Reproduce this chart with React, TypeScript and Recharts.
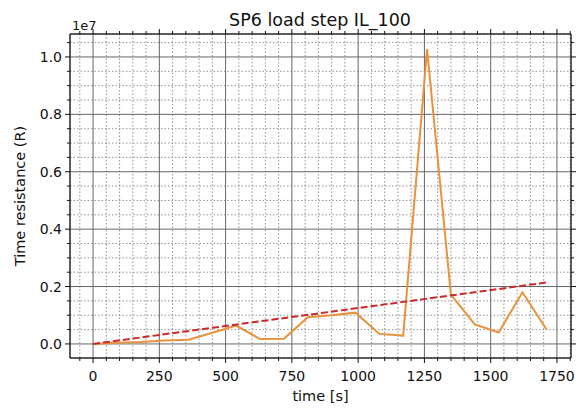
import { LineChart, Line, XAxis, YAxis, CartesianGrid } from 'recharts';

// measured samples, seconds vs resistance
const times = [0, 90, 180, 270, 360, 450, 540, 630, 720, 810, 900, 990, 1080, 1170, 1260, 1350, 1440, 1530, 1620, 1710];
const resistance = [0, 40000, 70000, 120000, 150000, 390000, 640000, 170000, 180000, 930000, 1000000, 1090000, 350000, 290000, 10270000, 1720000, 680000, 400000, 1800000, 510000];

// linear trend (dashed red)
const trendTimes = [0, 1710];
const trendValues = [0, 2140000];

const xMajor = [0, 250, 500, 750, 1000, 1250, 1500, 1750];
const xMinor = [-50, 50, 100, 150, 200, 300, 350, 400, 450, 550, 600, 650, 700, 800, 850, 900, 950, 1050, 1100, 1150, 1200, 1300, 1350, 1400, 1450, 1550, 1600, 1650, 1700, 1800];
const yMajor = [0, 2000000, 4000000, 6000000, 8000000, 10000000];
const yMinor = [500000, 1000000, 1500000, 2500000, 3000000, 3500000, 4500000, 5000000, 5500000, 6500000, 7000000, 7500000, 8500000, 9000000, 9500000, 10500000];

const xDomain = [-87, 1803];
const yDomain = [-490000, 10800000];

const data = times.map((t, i) => ({ t, r: resistance[i] }));
const trend = trendTimes.map((t, i) => ({ t, trend: trendValues[i] }));
const xAll = [...xMajor, ...xMinor].sort((a, b) => a - b);
const yAll = [...yMajor, ...yMinor].sort((a, b) => a - b);

const font = 'DejaVu Sans, sans-serif';

const XTick = ({ x, y, payload, up }: any) => {
  const major = xMajor.includes(payload.value);
  const len = major ? 5 : 3;
  const d = up ? -1 : 1;
  return (
    <g>
      <line x1={x} x2={x} y1={y} y2={y + d * len} stroke="#111" strokeWidth={1} />
      {major && !up && (
        <text x={x} y={y + 23} textAnchor="middle" fontSize={14} fontFamily={font} fill="#111">
          {payload.value}
        </text>
      )}
    </g>
  );
};

const YTick = ({ x, y, payload, right }: any) => {
  const major = yMajor.includes(payload.value);
  const len = major ? 5 : 3;
  const d = right ? 1 : -1;
  return (
    <g>
      <line x1={x} x2={x + d * len} y1={y} y2={y} stroke="#111" strokeWidth={1} />
      {major && !right && (
        <text x={x - 8} y={y + 5} textAnchor="end" fontSize={14} fontFamily={font} fill="#111">
          {(payload.value / 1e7).toFixed(1)}
        </text>
      )}
    </g>
  );
};

export default function App() {
  return (
    <LineChart width={580} height={400} data={data} margin={{ top: 18, right: 9, bottom: 10, left: 12 }}>
      <XAxis xAxisId="gxMin" type="number" dataKey="t" domain={xDomain} allowDataOverflow ticks={xMinor} interval={0} hide />
      <XAxis xAxisId="gxMaj" type="number" dataKey="t" domain={xDomain} allowDataOverflow ticks={xMajor} interval={0} hide />
      <YAxis yAxisId="gyMin" type="number" domain={yDomain} allowDataOverflow ticks={yMinor} interval={0} hide />
      <YAxis yAxisId="gyMaj" type="number" domain={yDomain} allowDataOverflow ticks={yMajor} interval={0} hide />
      <CartesianGrid xAxisId="gxMin" yAxisId="gyMin" stroke="#777" strokeWidth={0.8} strokeDasharray="1.5 2" />
      <CartesianGrid xAxisId="gxMaj" yAxisId="gyMaj" stroke="#666" strokeWidth={1} />
      <XAxis
        type="number"
        dataKey="t"
        domain={xDomain}
        allowDataOverflow
        ticks={xAll}
        interval={0}
        height={40}
        tickSize={0}
        tickMargin={0}
        tickLine={false}
        axisLine={{ stroke: '#111' }}
        tick={(p: any) => <XTick {...p} />}
        label={{ value: 'time [s]', position: 'insideBottom', offset: -3, fontSize: 14.5, fontFamily: font, fill: '#111' }}
      />
      <XAxis
        xAxisId="top"
        orientation="top"
        type="number"
        dataKey="t"
        domain={xDomain}
        allowDataOverflow
        ticks={xAll}
        interval={0}
        height={8}
        tickSize={0}
        tickMargin={0}
        tickLine={false}
        axisLine={{ stroke: '#111' }}
        tick={(p: any) => <XTick {...p} up />}
      />
      <YAxis
        type="number"
        domain={yDomain}
        allowDataOverflow
        ticks={yAll}
        interval={0}
        width={50}
        tickSize={0}
        tickMargin={0}
        tickLine={false}
        axisLine={{ stroke: '#111' }}
        tick={(p: any) => <YTick {...p} />}
        label={{ value: 'Time resistance (R)', angle: -90, position: 'left', offset: 0, fontSize: 14.5, fontFamily: font, fill: '#111', style: { textAnchor: 'middle' } }}
      />
      <YAxis
        yAxisId="right"
        orientation="right"
        type="number"
        domain={yDomain}
        allowDataOverflow
        ticks={yAll}
        interval={0}
        width={8}
        tickSize={0}
        tickMargin={0}
        tickLine={false}
        axisLine={{ stroke: '#111' }}
        tick={(p: any) => <YTick {...p} right />}
      />
      <Line dataKey="r" stroke="#e8923a" strokeWidth={2} dot={false} isAnimationActive={false} />
      <Line data={trend} dataKey="trend" stroke="#cc2929" strokeWidth={2} strokeDasharray="7 3" dot={false} isAnimationActive={false} />
      <text x={312} y={18} textAnchor="middle" fontSize={17.5} fontFamily={font} fill="#111">SP6 load step IL_100</text>
      <text x={64} y={22} fontSize={13} fontFamily={font} fill="#111">1e7</text>
    </LineChart>
  );
}
